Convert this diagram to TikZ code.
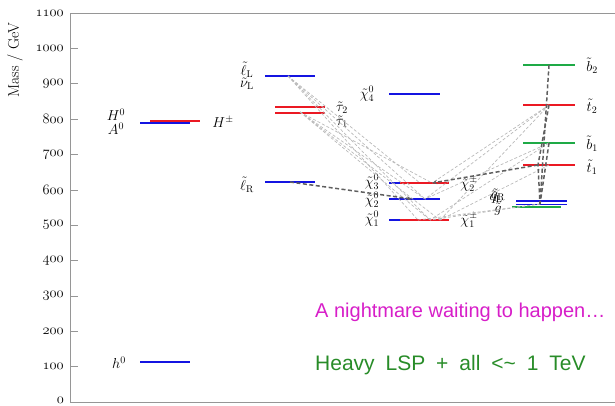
\documentclass[tikz,border=0pt]{standalone}
\usepackage{fontspec}
\newfontfamily\arialf{Liberation Sans}
\usetikzlibrary{arrows.meta}
\definecolor{lvblue}{RGB}{20,20,225}
\definecolor{lvred}{RGB}{235,25,35}
\definecolor{lvgreen}{RGB}{30,170,70}
\definecolor{axgray}{RGB}{150,150,150}
\definecolor{txmag}{RGB}{215,30,200}
\definecolor{txgreen}{RGB}{40,140,40}
\definecolor{lightdash}{RGB}{185,185,185}
\definecolor{darkdash}{RGB}{95,95,95}
\begin{document}
\begin{tikzpicture}[x=1pt,y=-1pt,
  lvl/.style={line width=1.8pt},
  lbl/.style={inner sep=0pt, font=\fontsize{14}{14}\selectfont},
  tick/.style={inner sep=0pt, anchor=east, font=\fontsize{15}{15}\selectfont},
  lightdec/.style={lightdash, line width=0.7pt, dash pattern=on 3pt off 2pt},
  darkdec/.style={darkdash, line width=1.5pt, dash pattern=on 4pt off 2.5pt},
  arr/.style={-{Stealth[length=5pt,width=4pt]}},
  note/.style={inner sep=0pt, anchor=west, font=\arialf\fontsize{20}{20}\selectfont}]
\useasboundingbox (0,0) rectangle (615,406);
% axis frame
\draw[axgray, line width=0.8pt] (615,13) -- (70,13) -- (70,402) -- (615,402);
\foreach \m in {0,...,11}{
  \pgfmathsetmacro\yy{402-35.35*\m}
  \draw[axgray, line width=0.8pt] (70,\yy) -- (78,\yy);
}
\foreach \m in {1,...,11}{
  \pgfmathsetmacro\yy{402-35.35*\m}
  \pgfmathtruncatemacro\vv{\m*100}
  \node[tick] (tick\m) at (64,\yy) {$\mathnormal{\vv}$};
}
\node[tick] (tick0) at (64,400) {$\mathnormal{0}$};
\node[rotate=90, inner sep=0pt, font=\fontsize{15.5}{15.5}\selectfont] (ylab) at (15,60) {Mass / GeV};

% Higgs
\draw[lvl,lvblue] (140,362) -- (190,362) coordinate[pos=.5] (h0);
\node[lbl] (h0lab) at (119,363) {$h^0$};
\draw[lvl,lvblue] (140,123) -- (190,123) coordinate[pos=.5] (A0);
\draw[lvl,lvred] (150,121) -- (200,121) coordinate[pos=.5] (Hpm);
\node[lbl] (H0lab) at (116,115) {$H^0$};
\node[lbl] (A0lab) at (116,129) {$A^0$};
\node[lbl] (Hpmlab) at (223,122) {$H^\pm$};

% sleptons
\draw[lvl,lvblue] (265,76) -- (315,76) coordinate[pos=.5] (lL);
\draw[line width=1.2pt,lvred] (275,107) -- (325,107) coordinate[pos=.5] (tau2);
\draw[line width=2.8pt,lvred] (275,113) -- (325,113) coordinate[pos=.5] (tau1);
\draw[lvl,lvblue] (265,182) -- (315,182) coordinate[pos=.5] (lR);
\node[lbl] (lLlab) at (247,70) {$\tilde\ell_{\mathrm L}$};
\node[lbl] (nLlab) at (247,84) {$\tilde\nu_{\mathrm L}$};
\node[lbl] (lRlab) at (247,185) {$\tilde\ell_{\mathrm R}$};
\node[lbl] (t2lab) at (342,108) {$\tilde\tau_2$};
\node[lbl] (t1lab) at (342,122) {$\tilde\tau_1$};

% gauginos
\draw[lvl,lvblue] (389,94) -- (440,94) coordinate[pos=.5] (chi4);
\draw[lvl,lvblue] (389,183) -- (401,183);
\draw[lvl,lvred] (400,183) -- (449,183) coordinate[pos=.5] (chi3);
\draw[lvl,lvblue] (389,199) -- (440,199) coordinate[pos=.5] (chi2);
\draw[lvl,lvblue] (389,220) -- (401,220);
\draw[lvl,lvred] (400,220) -- (449,220) coordinate[pos=.5] (chi1);
\node[lbl] (c4lab) at (367,94) {$\tilde\chi^0_4$};
\node[lbl] (c3lab) at (372,182) {$\tilde\chi^0_3$};
\node[lbl] (c2lab) at (372,200) {$\tilde\chi^0_2$};
\node[lbl] (c1lab) at (372,219) {$\tilde\chi^0_1$};
\node[lbl] (cp2lab) at (469,184) {$\tilde\chi^\pm_2$};
\node[lbl] (cp1lab) at (469,220) {$\tilde\chi^\pm_1$};

% squarks
\draw[lvl,lvgreen] (523,65) -- (575,65) coordinate[pos=.5] (b2);
\draw[lvl,lvred] (523,105) -- (575,105) coordinate[pos=.5] (st2);
\draw[lvl,lvgreen] (523,143) -- (575,143) coordinate[pos=.5] (b1);
\draw[lvl,lvred] (523,165) -- (575,165) coordinate[pos=.5] (st1);
\draw[lvl,lvblue] (516,201) -- (567,201) coordinate[pos=.5] (qR);
\draw[line width=1.4pt,lvblue] (516,204.5) -- (567,204.5) coordinate[pos=.5] (qL);
\draw[line width=1.4pt,lvgreen] (512,207) -- (561,207) coordinate[pos=.5] (gl);
\node[lbl] (b2lab) at (592,66) {$\tilde b_2$};
\node[lbl] (st2lab) at (592,106) {$\tilde t_2$};
\node[lbl] (b1lab) at (592,144) {$\tilde b_1$};
\node[lbl] (st1lab) at (592,167) {$\tilde t_1$};
\node[lbl] (qRlab) at (498,195) {$\tilde q_{\mathrm R}$};
\node[lbl] (qLlab) at (496,197) {$\tilde q_{\mathrm L}$};
\node[lbl] (gllab) at (498,209) {$\tilde g$};

% decay endpoints
\coordinate (lLd) at (288,76);
\coordinate (tauD) at (300,112);
\coordinate (c3a) at (420,183);
\coordinate (c3b) at (432,183);
\coordinate (c2a) at (412,199);
\coordinate (c2b) at (425,199);
\coordinate (c1a) at (418,220);
\coordinate (c1b) at (430,220);
\coordinate (c1c) at (440,220);
\coordinate (st1d) at (538,165);
\coordinate (qd) at (540,204);

% light decay lines
\foreach \a/\b in {lLd/c1a, lLd/c1b, lLd/c2b, lLd/c3a, tauD/c1b, tauD/c1c, tauD/c2b, tauD/c3b,
                   st2/c3b, st2/c2b, st2/c1c, b1/c1b, b1/c2b, st1/c1c, qd/c1b, qd/c1a}{
  \draw[lightdec] (\a) -- (\b);
}
% dark decay lines
\draw[darkdec,arr] (lR) -- (c2a);
\draw[darkdec,arr] (st1d) -- (c3b);
\draw[darkdec] (b2) -- (qd);
\draw[darkdec] (b1) -- (qd);
\draw[darkdec] (st2) -- (st1d) -- (qd);

% notes
\node[note, text=txmag] (n1) at (315,312) {A nightmare waiting to happen…};
\node[note, text=txgreen, font=\arialf\fontsize{21}{21}\selectfont] (n2) at (315,365)
  {Heavy\hspace{0.52em}LSP\hspace{0.52em}+\hspace{0.52em}all\hspace{0.52em}<\textasciitilde\hspace{0.52em}1\hspace{0.52em}TeV};
\end{tikzpicture}
\end{document}
